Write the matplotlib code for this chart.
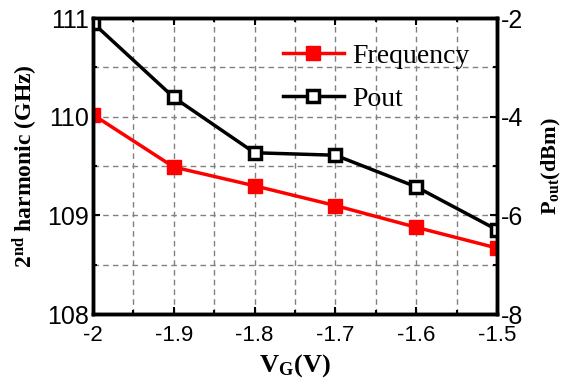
import numpy as np
import matplotlib
matplotlib.use('Agg')
import matplotlib.pyplot as plt
from matplotlib.ticker import MultipleLocator

plt.rcParams['font.family'] = 'Liberation Sans'
plt.rcParams['mathtext.fontset'] = 'custom'
plt.rcParams['mathtext.rm'] = 'Liberation Serif:bold'
plt.rcParams['mathtext.bf'] = 'Liberation Serif:bold'
plt.rcParams['mathtext.it'] = 'Liberation Serif:bold'

vg = [-2.0, -1.9, -1.8, -1.7, -1.6, -1.5]
freq = [110.02, 109.49, 109.30, 109.10, 108.88, 108.67]
pout = [-2.10, -3.61, -4.73, -4.78, -5.42, -6.29]

fig = plt.figure(figsize=(5.64, 3.84), dpi=100)
ax = fig.add_axes([0.165, 0.182, 0.716, 0.771])
ax2 = ax.twinx()

l1, = ax.plot(vg, freq, color='red', lw=2.5, marker='s', ms=9.5,
              mfc='red', mec='red', label='Frequency')
l2, = ax2.plot(vg, pout, color='black', lw=2.5, marker='s', ms=8.5,
               mfc='white', mec='black', mew=2.5, label='Pout')

ax.set_xlim(-2, -1.5)
ax.set_ylim(108, 111)
ax2.set_ylim(-8, -2)
ax.set_xticks(vg)
ax.set_xticklabels(['-2', '-1.9', '-1.8', '-1.7', '-1.6', '-1.5'])
ax.xaxis.set_minor_locator(MultipleLocator(0.05))
ax.set_yticks([108, 109, 110, 111])
ax.set_yticklabels(['108', '109', '110', '111'])
ax.yaxis.set_minor_locator(MultipleLocator(0.5))
ax2.set_yticks([-8, -6, -4, -2])
ax2.set_yticklabels(['-8', '-6', '-4', '-2'])
ax2.yaxis.set_minor_locator(MultipleLocator(1))

ax.grid(which='both', ls=(0, (4, 3)), color='gray', lw=1)
ax.tick_params(which='both', direction='in', width=1.5, top=True)
ax.tick_params(which='major', length=5)
ax.tick_params(which='minor', length=3)
ax.tick_params(axis='x', labelsize=16, pad=8)
ax.tick_params(axis='y', labelsize=18, pad=3)
ax2.tick_params(which='both', direction='in', width=1.5, labelsize=18, pad=3)
ax2.tick_params(which='major', length=5)
ax2.tick_params(which='minor', length=3)
for a in (ax, ax2):
    for s in a.spines.values():
        s.set_linewidth(2.5)

ax.set_xlabel(r'$\mathbf{V_{G}(V)}$', fontsize=19, labelpad=4)
ax.set_ylabel(r'$\mathbf{2^{nd}}$ harmonic (GHz)', fontsize=17,
              family='Liberation Serif', fontweight='bold', labelpad=5)
ax2.set_ylabel(r'$\mathbf{P_{out}(dBm)}$', fontsize=16, labelpad=12)

ax2.legend(handles=[l1, l2], loc='upper left', bbox_to_anchor=(0.47, 0.915),
           frameon=False, borderpad=0, borderaxespad=0, handlelength=2.2,
           handletextpad=0.3, labelspacing=0.65,
           prop={'family': 'Liberation Serif', 'size': 20})

fig.savefig('out.png', dpi=100)
